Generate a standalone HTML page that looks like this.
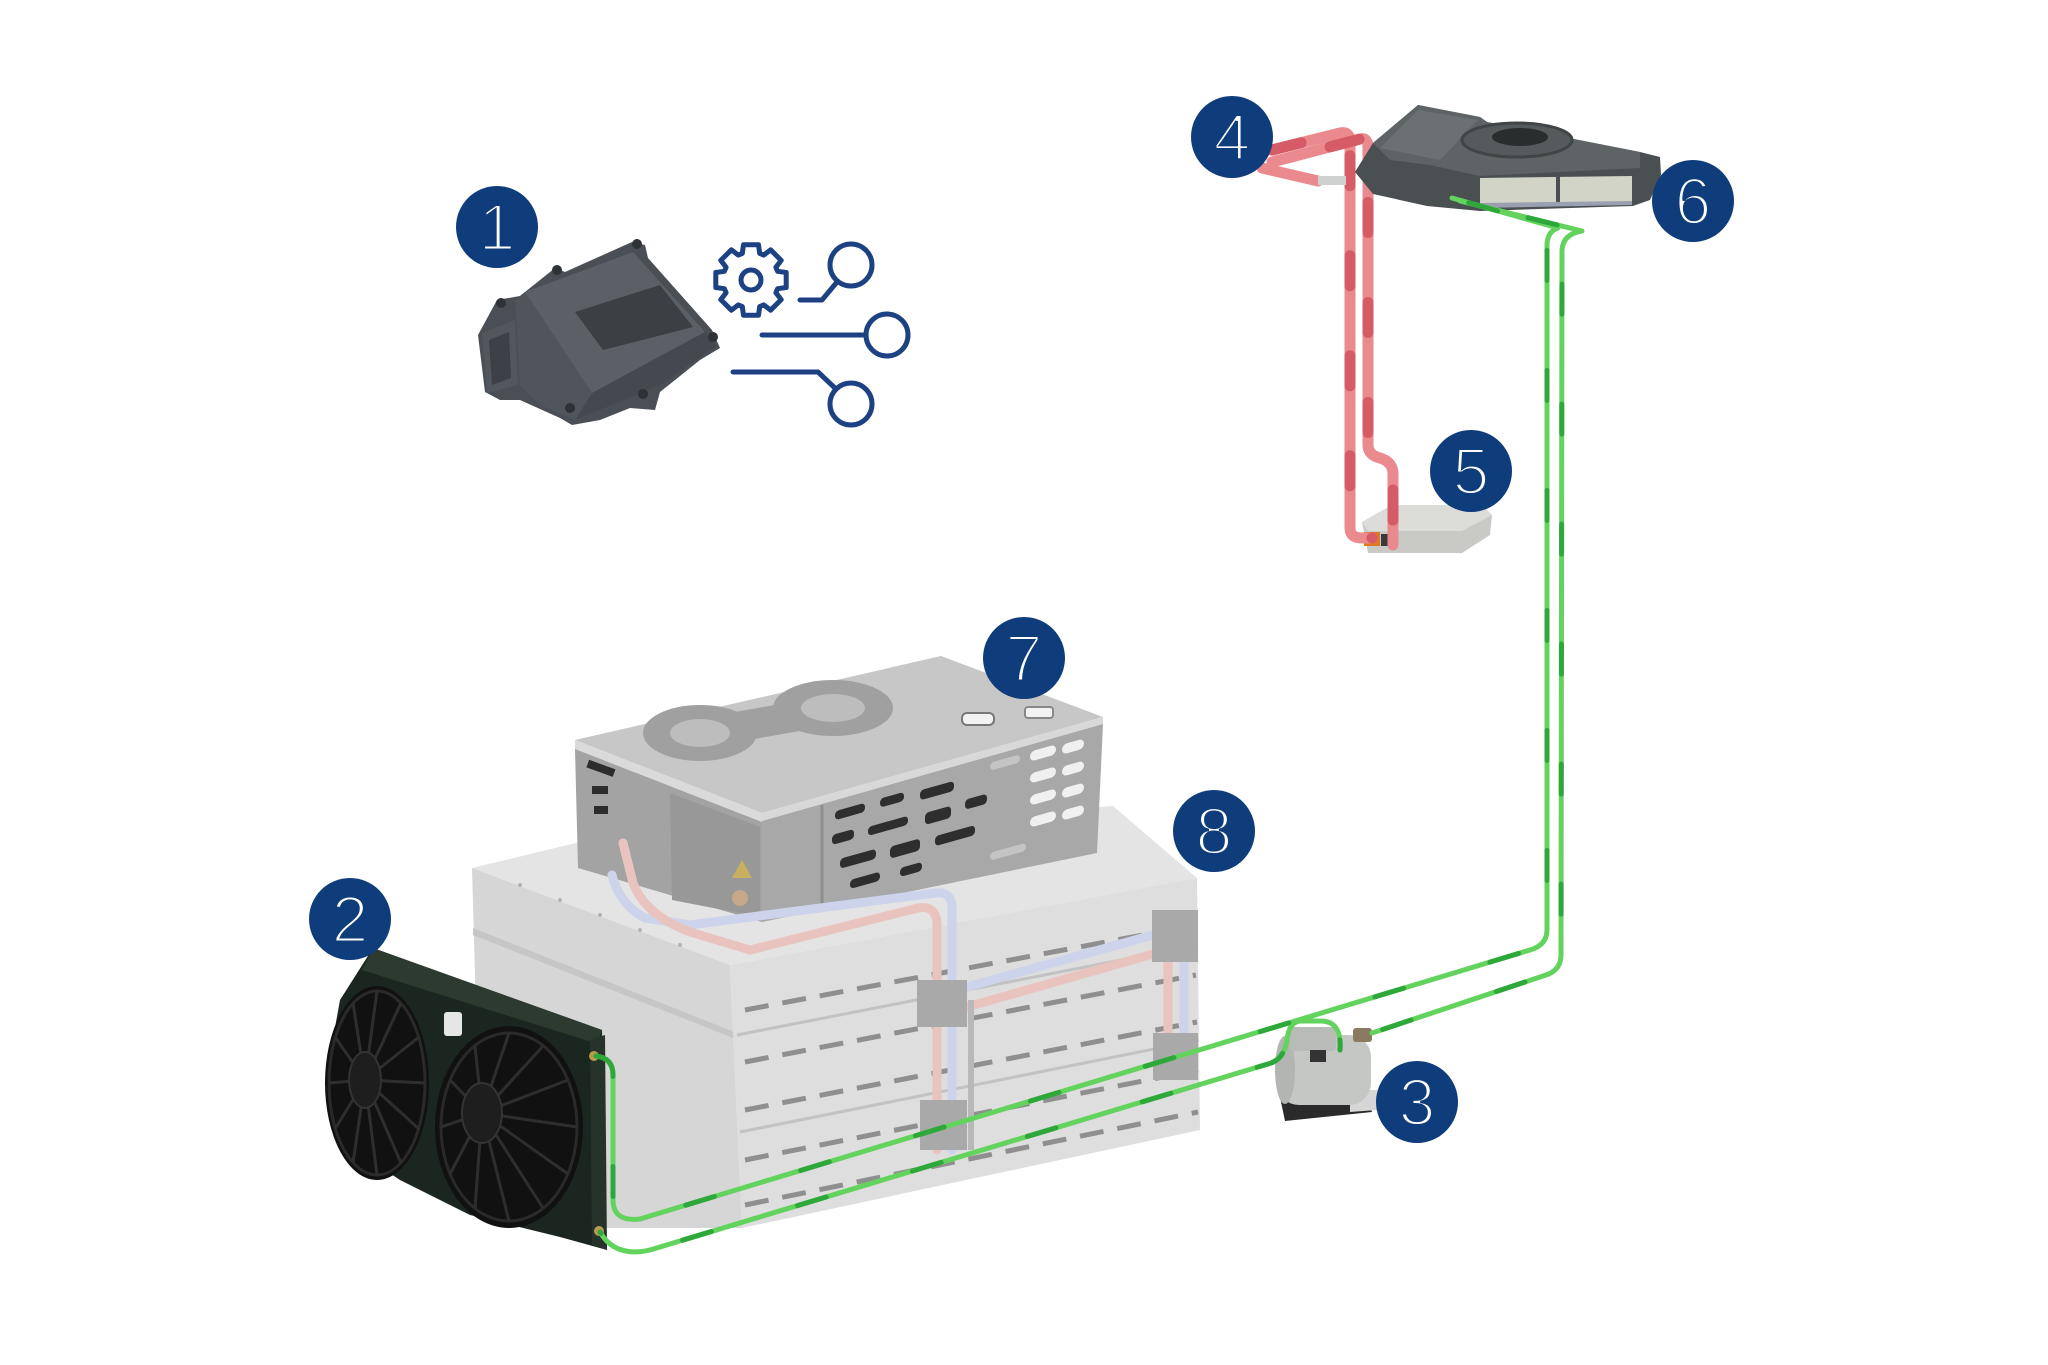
<!DOCTYPE html>
<html><head><meta charset="utf-8">
<style>
html,body{margin:0;padding:0;background:#fff;}
svg{display:block;}
.num{font-family:"Liberation Sans","DejaVu Sans",sans-serif;font-size:66px;fill:#fff;stroke:#0f3c7b;stroke-width:2.9px;text-anchor:middle;}
</style></head>
<body>
<svg width="2048" height="1365" viewBox="0 0 2048 1365" xmlns="http://www.w3.org/2000/svg">
<rect width="2048" height="1365" fill="#fff"/>

<!-- ECU -->
<g>
<polygon points="478,335 497,300 520,296 555,268 565,272 632,242 645,245 648,258 712,330 720,348 700,360 660,392 655,410 630,408 600,420 572,425 560,418 520,400 500,400 485,392" fill="#4a4e55"/>
<polygon points="525,292 633,252 705,332 592,393" fill="#5b6067"/>
<polygon points="592,393 705,332 716,346 660,385 575,420 566,405" fill="#45494f"/>
<polygon points="515,300 525,292 592,393 575,420 540,405 520,385" fill="#50545b"/>
<polygon points="575,312 660,285 693,327 603,350" fill="#3c3f44"/>
<polygon points="482,333 515,320 518,385 487,393" fill="#52565d"/>
<polygon points="489,340 509,332 511,378 492,385" fill="#3d4046"/>
<g fill="#2e3135"><circle cx="637" cy="244" r="5"/><circle cx="557" cy="270" r="5"/><circle cx="713" cy="337" r="5"/><circle cx="643" cy="394" r="5"/><circle cx="570" cy="408" r="5"/><circle cx="501" cy="303" r="5"/></g>
</g>

<!-- icon -->
<g stroke="#1c4283" stroke-width="5" fill="none" stroke-linecap="round" stroke-linejoin="round">
<polygon points="777.6,271.3 786.2,272.5 786.2,287.5 777.6,288.7 775.9,292.7 781.2,299.6 770.6,310.2 763.7,304.9 759.7,306.6 758.5,315.2 743.5,315.2 742.3,306.6 738.3,304.9 731.4,310.2 720.8,299.6 726.1,292.7 724.4,288.7 715.8,287.5 715.8,272.5 724.4,271.3 726.1,267.3 720.8,260.4 731.4,249.8 738.3,255.1 742.3,253.4 743.5,244.8 758.5,244.8 759.7,253.4 763.7,255.1 770.6,249.8 781.2,260.4 775.9,267.3"/>
<circle cx="751" cy="280" r="10"/>
<path d="M800,300 L822,300 L837,282"/>
<circle cx="851" cy="265" r="21"/>
<path d="M762,335 L866,335"/>
<circle cx="887" cy="335" r="21"/>
<path d="M733,372 L818,372 L836,389"/>
<circle cx="851" cy="404" r="21"/>
</g>

<!-- module 5 -->
<g>
<polygon points="1362,522 1392,505 1482,505 1492,515 1490,535 1462,553 1368,553" fill="#c9cac6"/>
<polygon points="1362,522 1392,505 1482,505 1492,515 1462,531 1368,531" fill="#dcdcd8"/>
<rect x="1364" y="532" width="16" height="14" fill="#de7a22"/>
<rect x="1381" y="534" width="10" height="12" fill="#3a3a3a"/>
</g>

<!-- red pipes -->
<g fill="none" stroke-width="11" stroke-linecap="round" stroke-linejoin="round">
<g stroke="#ea8a8e">
<path d="M1272,150 L1340,133 Q1350,131 1350,142 L1350,528 Q1350,538 1362,538 L1372,538"/>
<path d="M1272,162 L1360,139 Q1368,137 1368,148 L1368,445 Q1368,455 1380,458 Q1393,462 1393,474 L1393,545"/>
<path d="M1262,168 L1318,181"/>
</g>
<g stroke="#d55c66" stroke-dasharray="30 70">
<path d="M1272,150 L1340,133 Q1350,131 1350,142 L1350,528 Q1350,538 1362,538 L1372,538"/>
<path d="M1272,162 L1360,139 Q1368,137 1368,148 L1368,445 Q1368,455 1380,458 Q1393,462 1393,474 L1393,545" stroke-dashoffset="40"/>
</g>
</g>
<rect x="1318" y="176" width="28" height="9" fill="#cfd0d0"/>

<!-- HVAC unit 6 -->
<g>
<polygon points="1355,172 1373,143 1418,105 1480,117 1487,122 1640,152 1660,157 1661,175 1650,200 1633,206 1480,211 1427,206 1373,194" fill="#4a5052"/>
<polygon points="1373,143 1418,105 1480,117 1487,122 1640,152 1640,168 1480,176 1430,165 1390,160" fill="#5e6466"/>
<polygon points="1380,148 1418,110 1478,120 1440,160" fill="#6b7173"/>
<ellipse cx="1517" cy="140" rx="55" ry="17" fill="#555b5d" stroke="#404546" stroke-width="3"/>
<ellipse cx="1520" cy="137" rx="28" ry="9" fill="#2a2d2e"/>
<polygon points="1480,178 1632,176 1632,202 1480,204" fill="#d3d4c8"/>
<rect x="1556" y="176" width="4" height="27" fill="#4a5052"/>
<polygon points="1480,203 1632,201 1632,205 1480,208" fill="#9aa0b0"/>
</g>

<!-- BATTERY 8 -->
<g>
<polygon points="472,868 580,842 1113,806 1197,878 730,965" fill="#e4e4e4"/>
<polygon points="472,868 730,965 742,1228 600,1228 480,1150" fill="#d6d6d6"/>
<polygon points="473,928 737,1033 738,1040 473,935" fill="#c6c6c6"/>
<polygon points="730,965 1197,878 1200,1130 742,1228" fill="#dedede"/>
<g fill="none" stroke="#c2c2c2" stroke-width="3">
<path d="M737,1035 L1198,945"/>
<path d="M740,1132 L1199,1040"/>
</g>
<g fill="none" stroke="#8f8f8f" stroke-width="5" stroke-dasharray="24 14">
<path d="M745,1010 L1196,925"/>
<path d="M745,1062 L1196,975"/>
<path d="M745,1110 L1197,1022"/>
<path d="M745,1160 L1198,1070"/>
<path d="M745,1205 L1198,1112"/>
</g>
<g fill="#b4b4b4">
<circle cx="520" cy="885" r="2"/><circle cx="560" cy="900" r="2"/><circle cx="600" cy="915" r="2"/><circle cx="640" cy="930" r="2"/><circle cx="680" cy="945" r="2"/>
</g>
</g>

<!-- UNIT 7 -->
<g>
<polygon points="575,740 941,656 1103,717 762,813" fill="#c7c7c7"/>
<polygon points="575,740 762,813 762,822 575,749" fill="#dadada"/>
<polygon points="762,813 1103,717 1103,724 762,821" fill="#d8d8d8"/>
<ellipse cx="700" cy="733" rx="57" ry="28" fill="#a0a0a0"/>
<ellipse cx="833" cy="708" rx="60" ry="28" fill="#a0a0a0"/>
<rect x="720" y="706" width="100" height="30" fill="#a0a0a0" transform="rotate(-10 770 720)"/>
<ellipse cx="700" cy="733" rx="30" ry="14" fill="#bdbdbd"/>
<ellipse cx="833" cy="708" rx="32" ry="14" fill="#bdbdbd"/>
<rect x="962" y="713" width="32" height="12" rx="5" fill="#f2f2f2" stroke="#777" stroke-width="2"/>
<rect x="1025" y="707" width="28" height="11" rx="3" fill="#f2f2f2" stroke="#888" stroke-width="2"/>
<polygon points="575,749 762,822 762,922 578,868" fill="#a3a3a3"/>
<polygon points="670,793 760,827 760,917 672,900" fill="#989898"/>
<polygon points="742,860 752,878 732,878" fill="#c8b060"/>
<circle cx="740" cy="898" r="8" fill="#c8a88a"/>
<g fill="#2c2c2c"><rect x="587" y="764" width="28" height="8" transform="rotate(20 600 768)"/><rect x="592" y="786" width="16" height="8"/><rect x="594" y="806" width="14" height="8"/></g>
<polygon points="762,821 1103,724 1097,853 762,922" fill="#a8a8a8"/>
<line x1="822" y1="805" x2="822" y2="906" stroke="#8e8e8e" stroke-width="3"/>
<g transform="matrix(1,-0.28,0,1,0,0)">
<g fill="#2e2e2e">
<rect x="835" y="1045" width="30" height="9" rx="4"/><rect x="880" y="1045" width="24" height="9" rx="4"/><rect x="920" y="1048" width="34" height="10" rx="4"/>
<rect x="832" y="1068" width="22" height="10" rx="4"/><rect x="868" y="1070" width="40" height="9" rx="4"/><rect x="925" y="1072" width="26" height="12" rx="4"/><rect x="965" y="1070" width="22" height="10" rx="4"/>
<rect x="840" y="1094" width="36" height="10" rx="4"/><rect x="890" y="1096" width="30" height="12" rx="4"/><rect x="935" y="1098" width="40" height="10" rx="4"/>
<rect x="850" y="1118" width="30" height="9" rx="4"/><rect x="900" y="1120" width="22" height="9" rx="4"/>
</g>
<g fill="#f0f0f0">
<rect x="1030" y="1040" width="26" height="10" rx="5"/><rect x="1062" y="1042" width="22" height="10" rx="5"/>
<rect x="1030" y="1062" width="26" height="10" rx="5"/><rect x="1062" y="1064" width="22" height="10" rx="5"/>
<rect x="1030" y="1084" width="26" height="10" rx="5"/><rect x="1062" y="1086" width="22" height="10" rx="5"/>
<rect x="1030" y="1106" width="26" height="10" rx="5"/><rect x="1062" y="1108" width="22" height="10" rx="5"/>
<rect x="990" y="1040" width="30" height="8" rx="4" fill="#c4c4c4"/><rect x="990" y="1130" width="36" height="8" rx="4" fill="#c4c4c4"/>
</g>
</g>
</g>

<!-- battery pipes & blocks -->
<g fill="none" stroke-width="9" stroke-linecap="round" stroke-linejoin="round">
<path d="M612,875 Q620,905 645,918 L690,925 L935,893 Q952,891 952,908 L952,1150" stroke="#cdd3ea"/>
<path d="M623,843 L633,883 Q645,915 690,932 L750,950 L918,908 Q935,905 937,922 L937,1150" stroke="#e9c4bf"/>
<path d="M967,987 L1160,933" stroke="#cdd3ea"/>
<path d="M967,1007 L1160,952" stroke="#e9c4bf"/>
<path d="M1168,960 L1168,1035" stroke="#e9c4bf"/>
<path d="M1184,955 L1184,1033" stroke="#cdd3ea"/>
</g>
<g fill="#a9a9a9">
<rect x="917" y="980" width="50" height="47"/>
<rect x="920" y="1100" width="47" height="50"/>
<rect x="1152" y="910" width="46" height="52"/>
<rect x="1153" y="1033" width="45" height="47"/>
<rect x="968" y="1000" width="6" height="150" fill="#b8b8b8"/>
</g>

<!-- RADIATOR 2 -->
<g>
<polygon points="373,948 602,1030 607,1250 560,1237 470,1215 400,1180 340,1140 325,1083 340,1000" fill="#1c2620"/>
<polygon points="373,948 602,1030 598,1044 362,970" fill="#2c3a30"/>
<polygon points="590,1040 605,1035 607,1250 592,1245" fill="#26332a"/>
<ellipse cx="377" cy="1083" rx="52" ry="97" fill="#111"/>
<ellipse cx="377" cy="1083" rx="48" ry="92" fill="none" stroke="#2a2a2a" stroke-width="3"/>
<g stroke="#2e2e2e" stroke-width="3">
<path d="M365,1080 L425,1083 M365,1080 L419,1129 M365,1080 L401,1163 M365,1080 L377,1175 M365,1080 L353,1163 M365,1080 L335,1129 M365,1080 L329,1083 M365,1080 L335,1037 M365,1080 L353,1003 M365,1080 L377,991 M365,1080 L401,1003 M365,1080 L419,1037"/>
</g>
<ellipse cx="365" cy="1080" rx="16" ry="28" fill="#1e1e1e" stroke="#333" stroke-width="2"/>
<ellipse cx="509" cy="1127" rx="74" ry="101" fill="#111"/>
<ellipse cx="509" cy="1127" rx="68" ry="94" fill="none" stroke="#2a2a2a" stroke-width="3"/>
<g stroke="#2e2e2e" stroke-width="3">
<path d="M482,1113 L577,1127 M482,1113 L568,1174 M482,1113 L543,1208 M482,1113 L509,1221 M482,1113 L475,1208 M482,1113 L450,1174 M482,1113 L441,1127 M482,1113 L450,1080 M482,1113 L475,1046 M482,1113 L509,1033 M482,1113 L543,1046 M482,1113 L568,1080"/>
</g>
<ellipse cx="482" cy="1113" rx="20" ry="30" fill="#1e1e1e" stroke="#333" stroke-width="2"/>
<rect x="444" y="1012" width="18" height="24" rx="3" fill="#e6e6e6"/>
<circle cx="594" cy="1056" r="5" fill="#b89a50"/>
<circle cx="599" cy="1231" r="5" fill="#b89a50"/>
</g>

<!-- compressor 3 -->
<g>
<polygon points="1280,1097 1367,1097 1372,1112 1285,1121" fill="#2a2a2a"/>
<polygon points="1350,1090 1377,1090 1377,1110 1350,1112" fill="#d6d6d6"/>
<rect x="1277" y="1035" width="94" height="70" rx="22" fill="#c4c7c3"/>
<ellipse cx="1285" cy="1070" rx="10" ry="34" fill="#b2b5b1"/>
<rect x="1290" y="1027" width="46" height="24" rx="4" fill="#b8bbb7"/>
<rect x="1310" y="1050" width="16" height="12" fill="#333"/>
<rect x="1353" y="1028" width="19" height="14" rx="3" fill="#8a7a60"/>
</g>

<!-- green pipes -->
<g fill="none" stroke-width="5" stroke-linecap="round" stroke-linejoin="round">
<g stroke="#62d35c">
<path d="M596,1056 Q613,1058 613,1075 L613,1200 Q613,1222 640,1219 L1530,950 Q1547,945 1547,930 L1547,244 Q1548,231 1558,228 L1452,198"/>
<path d="M1460,201 L1582,231 Q1563,234 1562,250 L1561,955 Q1561,970 1546,975 L1372,1033"/>
<path d="M1340,1050 Q1342,1022 1322,1021 L1300,1021 Q1289,1022 1287,1040 Q1284,1060 1268,1064 L650,1250 Q615,1258 600,1232"/>
</g>
<g stroke="#2ea83a" stroke-dasharray="30 90">
<path d="M596,1056 Q613,1058 613,1075 L613,1200 Q613,1222 640,1219 L1530,950 Q1547,945 1547,930 L1547,244 Q1548,231 1558,228 L1452,198"/>
<path d="M1460,201 L1582,231 Q1563,234 1562,250 L1561,955 Q1561,970 1546,975 L1372,1033" stroke-dashoffset="50"/>
<path d="M1340,1050 Q1342,1022 1322,1021 L1300,1021 Q1289,1022 1287,1040 Q1284,1060 1268,1064 L650,1250 Q615,1258 600,1232" stroke-dashoffset="20"/>
</g>
</g>

<!-- number badges -->
<g fill="#0f3c7b">
<circle cx="497" cy="227" r="41"/>
<circle cx="350" cy="919" r="41"/>
<circle cx="1417" cy="1102" r="41"/>
<circle cx="1232" cy="137" r="41"/>
<circle cx="1471" cy="471" r="41"/>
<circle cx="1693" cy="201" r="41"/>
<circle cx="1024" cy="658" r="41"/>
<circle cx="1214" cy="831" r="41"/>
</g>
<text class="num" x="497" y="250">1</text>
<text class="num" x="350" y="942">2</text>
<text class="num" x="1417" y="1125">3</text>
<text class="num" x="1232" y="160">4</text>
<text class="num" x="1471" y="494">5</text>
<text class="num" x="1693" y="224">6</text>
<text class="num" x="1024" y="681">7</text>
<text class="num" x="1214" y="854">8</text>
</svg>
</body></html>
